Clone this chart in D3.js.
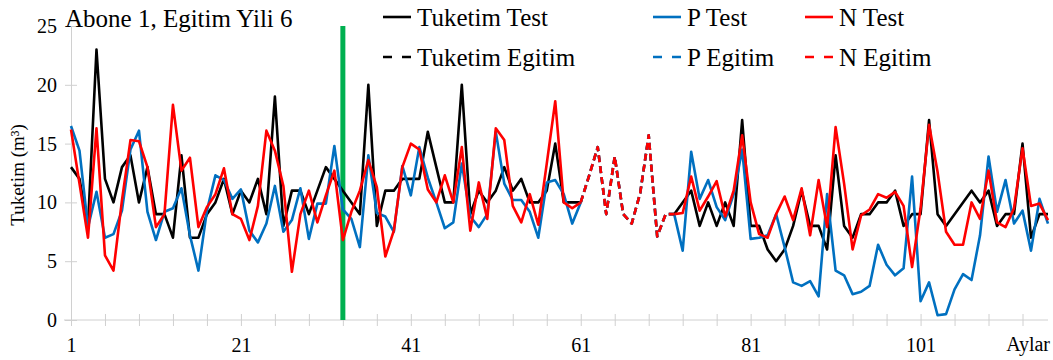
<!DOCTYPE html>
<html>
<head>
<meta charset="utf-8">
<script src="https://cdnjs.cloudflare.com/ajax/libs/d3/7.8.5/d3.min.js"></script>
<style>
	body { margin: 0; background: #fff; }
	text { font-family: 'Liberation Serif', 'Times New Roman', serif; fill: #000; }
</style>
</head>
<body>
<div id="chart"></div>
<script>
var width = 1053,
	height = 360;

// months 1..116, test period data (null = training months)
var tuketimTest = [13, 12, 8, 23, 12, 10, 13, 14, 10, 13, 9, 9, 7, 14, 7, 7, 9, 10, 12, 9,
	11, 10, 12, 9, 19, 8, 11, 11, 9, 11, 13, 12, 11, 10, 9, 20, 8, 11, 11, 12,
	12, 12, 16, 13, 10, 10, 20, 9, 11, 10, 11, 13, 11, 12, 10, 10, 11, 15, 10, 10,
	10, null, null, null, null, null, null, null, null, null, null, 9, 10, 11, 8, 10, 8, 10, 8, 17,
	8, 8, 6, 5, 6, 8, 11, 8, 8, 6, 14, 8, 7, 9, 9, 10, 10, 11, 8, 9,
	9, 17, 9, 8, 9, 10, 11, 10, 11, 8, 9, 9, 15, 7, 9, 9];

var pTest = [16.5, 14.4, 7.9, 10.9, 7.0, 7.3, 9.3, 14.5, 16.1, 9.2, 6.8, 9.2, 9.5, 11.2, 7.2, 4.2, 9.3, 12.3, 11.9, 10.3,
	11.1, 7.6, 6.6, 8.2, 11.4, 7.5, 8.5, 11.2, 6.9, 9.9, 9.9, 14.8, 9.4, 8.6, 6.2, 14, 9.1, 8.8, 7.5, 13.1,
	10.6, 14.7, 12.1, 10, 7.8, 8.3, 13.3, 8.8, 7.9, 9, 16, 11.6, 10.2, 10.2, 9.2, 7, 11.7, 11.9, 10.7, 8.2,
	10, null, null, null, null, null, null, null, null, null, null, 9, 5.9, 14.3, 10.3, 11.9, 9.6, 8.5, 10.7, 14.5,
	6.9, 7, 7.2, 9, 6.2, 3.2, 2.9, 3.3, 2, 10.7, 4.2, 3.8, 2.2, 2.4, 2.9, 6.4, 4.7, 3.8, 4.4, 12.2,
	1.6, 3.2, 0.4, 0.5, 2.6, 3.9, 3.4, 7.2, 13.9, 9.2, 11.9, 8.2, 9.3, 5.9, 10.3, 8.2];

var nTest = [16.2, 11.6, 7, 16.3, 5.5, 4.2, 10.2, 15.3, 15.2, 13, 7.9, 9, 18.3, 12.7, 13.8, 7.9, 9.6, 10.7, 12.9, 9,
	8.6, 6.8, 9.7, 16.1, 14.4, 11.4, 4.1, 9, 11, 8.3, 10.6, 12.7, 6.8, 9.2, 11, 13.6, 11.3, 5.4, 7.6, 13,
	15, 14.5, 11.1, 10, 12.3, 10, 14.7, 7.6, 11.7, 8.6, 16.3, 15.3, 9.7, 8.3, 10.7, 8.1, 13.3, 18.6, 10, 9.5,
	10, null, null, null, null, null, null, null, null, null, null, 9, 9.1, 12.2, 9.3, 10.5, 11.8, 8.8, 11, 15.7,
	10, 7.3, 7, 9, 10.5, 8.5, 11.2, 7.2, 11.9, 7.9, 16.4, 11.6, 6, 8.9, 9.4, 10.7, 10.4, 10.9, 9.7, 4.5,
	9.5, 16.6, 12.6, 7.5, 6.4, 6.4, 10, 8.6, 12.7, 8.3, 7.9, 9.5, 14.6, 9.7, 9.9, 8.5];

// training months 61..72
var egitimAylar = [61, 62, 63, 64, 65, 66, 67, 68, 69, 70, 71, 72];
var tuketimEgitim = [10, 12.3, 14.7, 9, 13.9, 9, 8.2, 10.8, 15.7, 7.1, 9, 9];
var pEgitim = [10, 12.3, 14.7, 9, 13.9, 9, 8.2, 10.8, 15.7, 7.1, 9, 9];
var nEgitim = [10, 12.3, 14.7, 9, 13.9, 9, 8.2, 10.8, 15.7, 7.1, 9, 9];

var yTicks = [0, 5, 10, 15, 20, 25];
var xLabels = [1, 21, 41, 61, 81, 101];
var ayirici = 33;

var svg = d3.select('#chart').append('svg')
	.attr('width', width)
	.attr('height', height)
	.style('display', 'block');

var x = d3.scaleLinear().domain([1, tuketimTest.length]).range([71, 1048]);
var y = d3.scaleLinear().domain([0, 25]).range([320, 26]);

// axes
var yAxis = d3.axisLeft(y).tickValues(yTicks).tickSize(6).tickSizeOuter(0).tickPadding(10);
var gy = svg.append('g').attr('transform', 'translate(' + x(1) + ',0)').call(yAxis);
gy.select('.domain').attr('stroke', '#d0d0d0');
gy.selectAll('.tick line').attr('stroke', '#d0d0d0').attr('x1', 6).attr('x2', -6);
gy.selectAll('.tick text').style('font-size', '20px').attr('x', -14);

var xTicks = d3.range(1, tuketimTest.length + 1, 4);
var xAxis = d3.axisBottom(x).tickValues(xTicks).tickSize(5).tickSizeOuter(0)
	.tickFormat(function(d) { return xLabels.indexOf(d) >= 0 ? d : ''; });
var gx = svg.append('g').attr('transform', 'translate(0,' + y(0) + ')').call(xAxis);
gx.select('.domain').attr('stroke', '#d0d0d0').attr('d', 'M64,0H' + x(tuketimTest.length));
gx.selectAll('.tick line').attr('stroke', '#d0d0d0').attr('y1', -6).attr('y2', 6);
gx.selectAll('.tick text').style('font-size', '20px').attr('y', 18);

svg.append('text')
	.attr('x', 1050).attr('y', 351)
	.attr('text-anchor', 'end')
	.style('font-size', '20px')
	.text('Aylar');

svg.append('text')
	.attr('transform', 'translate(24,175) rotate(-90)')
	.attr('text-anchor', 'middle')
	.style('font-size', '19px')
	.text('Tuketim (m³)');

svg.append('text')
	.attr('x', 65).attr('y', 27)
	.style('font-size', '25px')
	.text('Abone 1, Egitim Yili 6');

// green separator
svg.append('line')
	.attr('x1', x(ayirici)).attr('x2', x(ayirici))
	.attr('y1', y(25)).attr('y2', y(0))
	.attr('stroke', '#00b050')
	.attr('stroke-width', 5);

var line = d3.line()
	.defined(function(d) { return d != null; })
	.x(function(d, i) { return x(i + 1); })
	.y(function(d) { return y(d); });

var lineEgitim = d3.line()
	.x(function(d, i) { return x(egitimAylar[i]); })
	.y(function(d) { return y(d); });

var series = [
	{ name: 'Tuketim Test', data: tuketimTest, color: '#000000', dash: null },
	{ name: 'P Test', data: pTest, color: '#0070c0', dash: null },
	{ name: 'N Test', data: nTest, color: '#ff0000', dash: null },
	{ name: 'Tuketim Egitim', data: tuketimEgitim, color: '#000000', dash: '7,4' },
	{ name: 'P Egitim', data: pEgitim, color: '#0070c0', dash: '7,4' },
	{ name: 'N Egitim', data: nEgitim, color: '#ff0000', dash: '7,4' }
];

series.forEach(function(s) {
	svg.append('path')
		.datum(s.data)
		.attr('fill', 'none')
		.attr('stroke', s.color)
		.attr('stroke-width', 2.6)
		.attr('stroke-linejoin', 'round')
		.attr('stroke-dasharray', s.dash)
		.attr('d', s.dash ? lineEgitim : line);
});

// legend
var legendX = [383, 653, 805],
	legendY = [17, 57];

series.forEach(function(s, i) {
	var lx = legendX[i % 3], ly = legendY[Math.floor(i / 3)];
	svg.append('line')
		.attr('x1', lx).attr('x2', lx + 28)
		.attr('y1', ly).attr('y2', ly)
		.attr('stroke', s.color)
		.attr('stroke-width', 2.6)
		.attr('stroke-dasharray', s.dash ? '9,10' : null);
	svg.append('text')
		.attr('x', lx + 34).attr('y', ly)
		.attr('dy', '0.35em')
		.style('font-size', '25px')
		.text(s.name);
});
</script>
</body>
</html>
